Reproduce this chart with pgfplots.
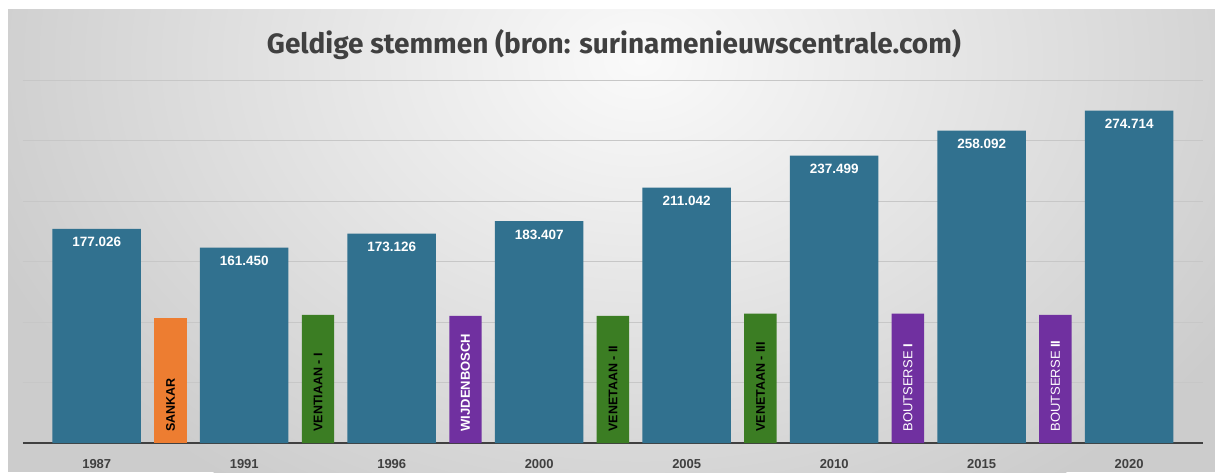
\documentclass[border=0pt]{standalone}
\usepackage{fontspec}
\setmainfont{Liberation Sans}
\newfontfamily\titlefont{Fira Sans}
\usepackage{pgfplots}
\pgfplotsset{compat=1.18}

\definecolor{barblue}{HTML}{31718F}
\definecolor{presorange}{HTML}{ED7D31}
\definecolor{presgreen}{HTML}{3B7D23}
\definecolor{prespurple}{HTML}{7030A0}
\definecolor{txtgray}{HTML}{404040}

\begin{document}
\begin{tikzpicture}
\useasboundingbox (0pt,0pt) rectangle (1215pt,472pt);
\fill[white] (0pt,0pt) rectangle (1215pt,472pt);

% light panel with a soft radial gradient
\begin{scope}
  \clip (8pt,0pt) rectangle (1215pt,462pt);
  \fill[black!20] (8pt,0pt) rectangle (1215pt,462pt);
  \shade[inner color=black!2, outer color=black!20] (640pt,412pt) ellipse (700pt and 520pt);
\end{scope}

\node[font=\titlefont\bfseries\fontsize{28}{32}\selectfont, text=txtgray] at (614pt,427pt)
  {Geldige stemmen (bron: surinamenieuwscentrale.com)};

\begin{axis}[
  at={(23pt,29pt)}, anchor=south west,
  scale only axis,
  width=1180pt, height=363pt,
  xmin=-0.5, xmax=7.5,
  ymin=0, ymax=300000,
  axis x line*=bottom,
  axis y line*=left,
  y axis line style={draw=none},
  x axis line style={draw=txtgray, line width=2pt, -},
  xtick={0,...,7},
  xticklabels={1987,1991,1996,2000,2005,2010,2015,2020},
  xticklabel style={font=\bfseries\fontsize{13}{15}\selectfont, text=txtgray, yshift=-13pt},
  major tick length=0pt,
  ytick={50000,100000,...,300000},
  yticklabels={},
  scaled y ticks=false,
  ymajorgrids,
  grid style={black!22, line width=0.8pt},
  /pgf/number format/.cd, fixed, precision=0, 1000 sep={.}, assume math mode=true,
  /pgfplots/.cd,
  clip=false,
]

% valid votes per election year
\addplot[ybar, bar width=0.6, bar shift=0pt, fill=barblue, draw=none,
  nodes near coords,
  every node near coord/.append style={anchor=north, yshift=-5pt, text=white,
    font=\bfseries\fontsize{13.5}{15}\selectfont}]
  coordinates {(0,177026) (1,161450) (2,173126) (3,183407)
               (4,211042) (5,237499) (6,258092) (7,274714)};

% presidents between the elections
\addplot[ybar, bar width=0.22, bar shift=0pt, fill=presorange, draw=none]
  coordinates {(0.5,103300)};
\addplot[ybar, bar width=0.22, bar shift=0pt, fill=presgreen, draw=none]
  coordinates {(1.5,105800) (3.5,105000) (4.5,106900)};
\addplot[ybar, bar width=0.22, bar shift=0pt, fill=prespurple, draw=none]
  coordinates {(2.5,105000) (5.5,107000) (6.5,105800)};

\tikzset{pres/.style={rotate=90, anchor=west, xshift=8pt,
  font=\bfseries\fontsize{12.5}{14}\selectfont}}
\node[pres, text=black] at (axis cs:0.5,0) {SANKAR};
\node[pres, text=black] at (axis cs:1.5,0) {VENTIAAN - I};
\node[pres, text=white, font=\bfseries\fontsize{13}{14}\selectfont] at (axis cs:2.5,0) {WIJDENBOSCH};
\node[pres, text=black] at (axis cs:3.5,0) {VENETAAN - II};
\node[pres, text=black] at (axis cs:4.5,0) {VENETAAN - III};
\node[pres, text=white, font=\fontsize{13}{14}\selectfont] at (axis cs:5.5,0) {BOUTSERSE \textbf{I}};
\node[pres, text=white, font=\fontsize{13}{14}\selectfont] at (axis cs:6.5,0) {BOUTSERSE \textbf{II}};

\end{axis}
\end{tikzpicture}
\end{document}
